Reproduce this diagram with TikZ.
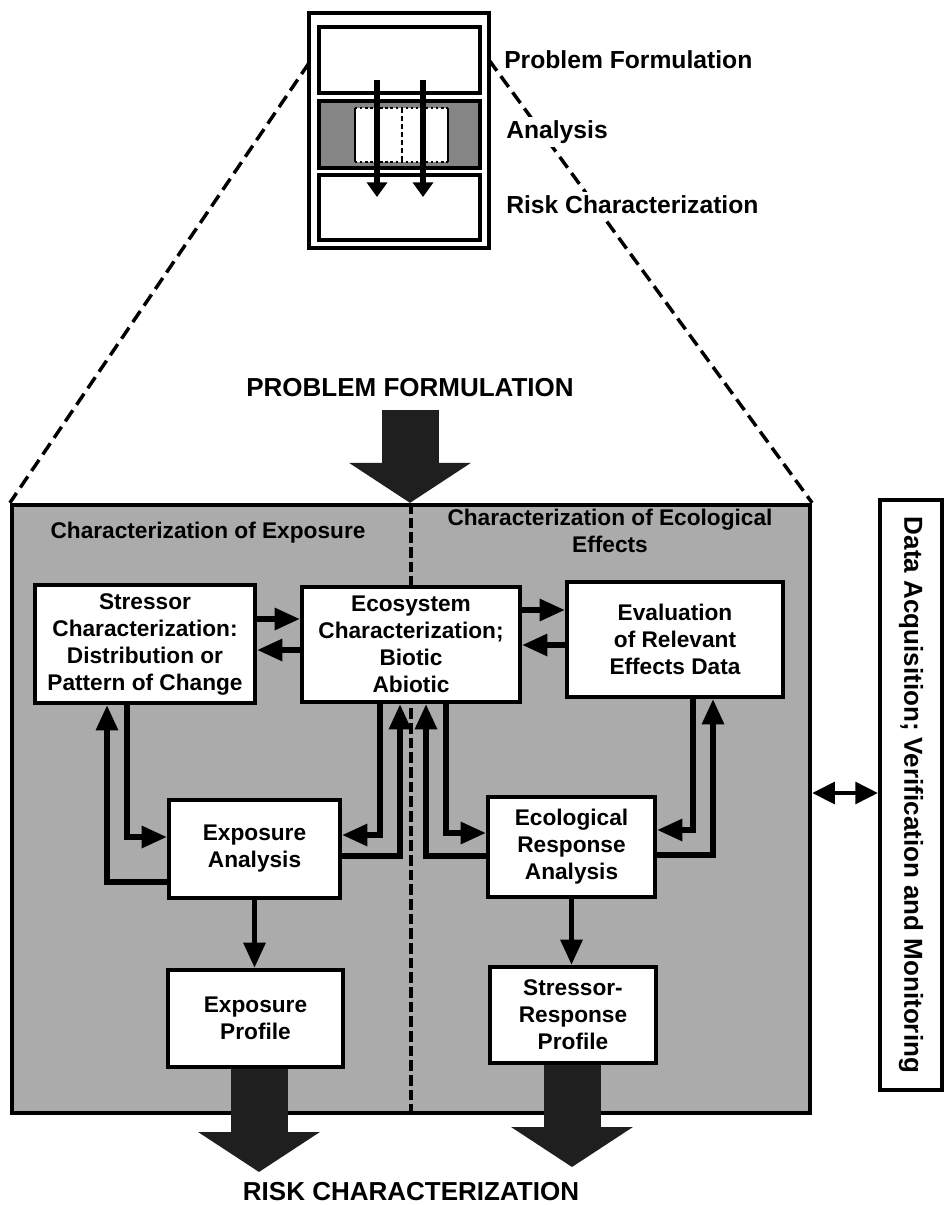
\documentclass[tikz,border=0pt]{standalone}
\usepackage{fontspec}
\setmainfont{Liberation Sans}
\usetikzlibrary{arrows.meta}
\newcommand\bxfont{\fontsize{17}{20.25}\selectfont\bfseries}
\newcommand\hdfont{\fontsize{19.5}{23}\selectfont\bfseries}
\newcommand\lbfont{\fontsize{18.5}{22}\selectfont\bfseries}
\def\px{0.75pt}

\begin{document}
\begin{tikzpicture}[x=0.75pt,y=-0.75pt,
  stage/.style={draw, line width=3.2pt, fill=white, inner sep=0pt, align=center, font=\bxfont},
  minibox/.style={draw, line width=2.6pt, inner sep=0pt},
  link/.style={line width=4pt, -{Triangle[length=19pt,width=16pt]}},
  twoway/.style={line width=3.6pt, {Triangle[length=17pt,width=16pt]}-{Triangle[length=17pt,width=16pt]}},
  fatarrow/.style={line width=42.75pt, black!88, -{Triangle[length=30pt,width=90pt]}},
  miniarrow/.style={line width=4.5pt, -{Triangle[length=11pt,width=15pt]}},
  zoomline/.style={line width=2.6pt, dash pattern=on 10pt off 5pt},
  divider/.style={line width=2.8pt, dash pattern=on 8pt off 3pt},
  halftone/.style={fill=black!33},
  steplabel/.style={anchor=west, fill=white, inner sep=3pt, font=\lbfont},
]
\useasboundingbox (0,0) rectangle (945,1205);

% ---------- overview of the three phases ----------
\node[minibox, line width=3pt, minimum width=180*\px, minimum height=235*\px] (frame) at (399,130.5) {};
\node[minibox, minimum width=161*\px, minimum height=66*\px] (mtop) at (399.5,60) {};
\node[minibox, fill=black!48, minimum width=161*\px, minimum height=67*\px] (mana) at (399.5,134.5) {};
\node[minibox, minimum width=161*\px, minimum height=65*\px] (mbot) at (399.5,207.5) {};
\fill[white] (355,108) rectangle (448,162);
\draw[line width=1.5pt] (355,108) -- (355,162) (448,108) -- (448,162);
\draw[line width=1.8pt, dotted] (355,108) -- (448,108) (355,162) -- (448,162);
\draw[line width=1.2pt, dash pattern=on 4pt off 2pt] (402,108) -- (402,162);
\coordinate (m1) at (377,80);
\coordinate (m2) at (423,80);
\coordinate (m1e) at (377,197);
\coordinate (m2e) at (423,197);
\draw[miniarrow] (m1) -- (m1e);
\draw[miniarrow] (m2) -- (m2e);

% ---------- main analysis block ----------
\node[draw, line width=3.2pt, halftone, minimum width=798*\px, minimum height=608*\px, inner sep=0pt] (big) at (411,809) {};

% zoom lines from the overview to the main block
\coordinate (fl) at (309,63);
\coordinate (fr) at (489,60);
\draw[zoomline] (fl) -- (big.north west);
\draw[zoomline] (fr) -- (big.north east);

\node[steplabel] (lpf) at (500,60) {Problem Formulation};
\node[steplabel] (lan) at (502,132) {Analysis};
\node[steplabel] (lrc) at (502,205) {Risk Characterization};

% divider between the two halves
\draw[divider] (big.north) -- (big.south);

\node[font=\bxfont] (lexp) at (208,533) {Characterization of Exposure};
\node[font=\bxfont, align=center] (leco) at (610,531) {Characterization of Ecological\\Effects};

% boxes
\node[stage, minimum width=220*\px, minimum height=118*\px] (stressor) at (145,644) {Stressor\\Characterization:\\Distribution or\\Pattern of Change};
\node[stage, minimum width=218*\px, minimum height=115*\px] (eco) at (411,644.5) {Ecosystem\\Characterization;\\Biotic\\Abiotic};
\node[stage, minimum width=216*\px, minimum height=115*\px] (effects) at (675,639.5) {Evaluation\\of Relevant\\Effects Data};
\node[stage, minimum width=171*\px, minimum height=98*\px] (expan) at (254.5,849) {Exposure\\Analysis};
\node[stage, minimum width=167*\px, minimum height=100*\px] (resp) at (571.5,847) {Ecological\\Response\\Analysis};
\node[stage, minimum width=175*\px, minimum height=97*\px] (expprof) at (255.5,1018.5) {Exposure\\Profile};
\node[stage, minimum width=166*\px, minimum height=96*\px] (srprof) at (573,1015) {Stressor-\\Response\\Profile};

% rows and lanes of the connectors
\coordinate (r1) at (0,619);
\coordinate (r2) at (0,650);
\coordinate (r3) at (0,610);
\coordinate (r4) at (0,645);
\coordinate (jA) at (127,837);
\coordinate (jB) at (107,882);
\coordinate (jC) at (380,835);
\coordinate (jD) at (400,856);
\coordinate (jE) at (426,856);
\coordinate (jF) at (446,833);
\coordinate (jG) at (693,830);
\coordinate (jH) at (713,855);
\coordinate (jI) at (0,793);

\draw[link] (stressor.east |- r1) -- (eco.west |- r1);
\draw[link] (eco.west |- r2) -- (stressor.east |- r2);
\draw[link] (eco.east |- r3) -- (effects.west |- r3);
\draw[link] (effects.west |- r4) -- (eco.east |- r4);

\draw[link] (stressor.south -| jA) |- (expan.west |- jA);
\draw[link] (expan.west |- jB) -| (stressor.south -| jB);
\draw[link] (eco.south -| jC) |- (expan.east |- jC);
\draw[link] (expan.east |- jD) -| (eco.south -| jD);
\draw[link] (resp.west |- jE) -| (eco.south -| jE);
\draw[link] (eco.south -| jF) |- (resp.west |- jF);
\draw[link] (effects.south -| jG) |- (resp.east |- jG);
\draw[link] (resp.east |- jH) -| (effects.south -| jH);

\draw[link] (expan.south) -- (expprof.north -| expan.south);
\draw[link] (resp.south) -- (srprof.north -| resp.south);

% side box (rotated clockwise: its south side faces the main block)
\node[draw, line width=3pt, rotate=-90, minimum width=590*\px, minimum height=62*\px, inner sep=0pt, font=\hdfont] (data) at (911,795) {Data Acquisition; Verification and Monitoring};
\draw[twoway] (big.east |- jI) -- (data.south |- jI);

% inputs and outputs
\node[font=\hdfont] (pf) at (410,388) {PROBLEM FORMULATION};
\coordinate (pfa) at (410,410);
\draw[fatarrow] (pfa) -- (pfa |- big.north);

\node[font=\hdfont] (rc) at (411,1192) {RISK CHARACTERIZATION};
\coordinate (ta) at (259,1172);
\coordinate (tb) at (572,1167);
\draw[fatarrow] (expprof.south -| ta) -- (ta);
\draw[fatarrow] (srprof.south -| tb) -- (tb);
\end{tikzpicture}
\end{document}
